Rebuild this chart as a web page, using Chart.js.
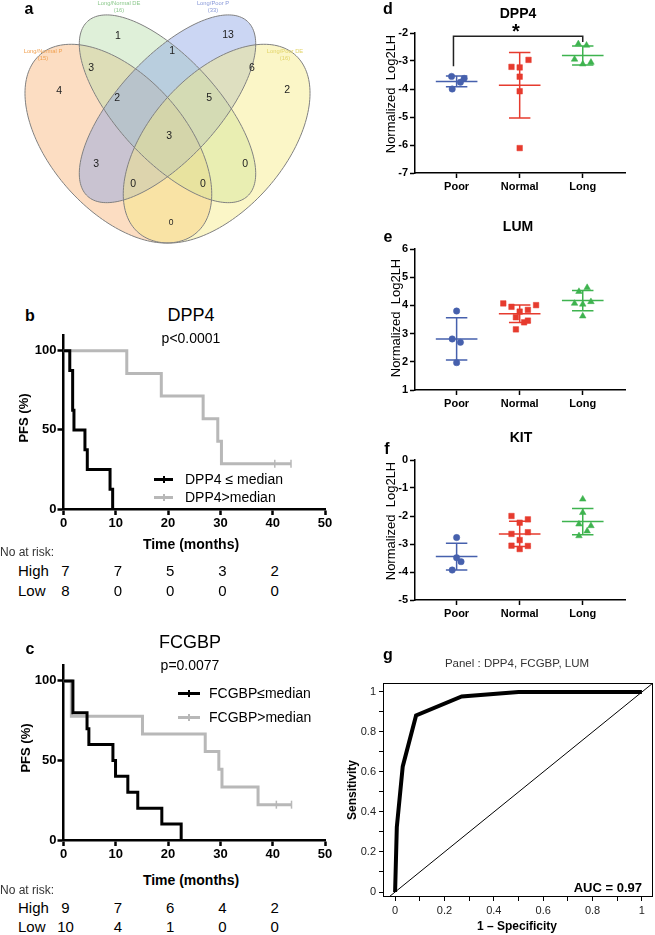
<!DOCTYPE html>
<html>
<head>
<meta charset="utf-8">
<script src="https://cdn.jsdelivr.net/npm/chart.js@4.4.1/dist/chart.umd.min.js"></script>
<style>
  html, body { margin: 0; padding: 0; background: #fff; }
  #page { position: relative; width: 655px; height: 935px; overflow: hidden; font-family: Arial, "Liberation Sans", sans-serif; color: #000; }
  canvas { position: absolute; }
  .t { position: absolute; white-space: pre; transform: translate(-50%, -50%); line-height: 1; }
  .l { transform: translate(0, -50%); }
  .r { transform: translate(-100%, -50%); }
  .rot { transform: translate(-50%, -50%) rotate(-90deg); }
  .b { font-weight: bold; }
  .key { position: absolute; height: 3px; }
  .tick { position: absolute; width: 1.5px; height: 7px; }
</style>
</head>
<body>
<div id="page">
  <canvas id="venn" width="330" height="250" style="left:0px;top:0px"></canvas>
  <canvas id="kmB" width="335" height="215" style="left:0px;top:325px"></canvas>
  <canvas id="kmC" width="335" height="217" style="left:0px;top:655px"></canvas>
  <canvas id="dotD" width="320" height="200" style="left:335px;top:0px"></canvas>
  <canvas id="dotE" width="320" height="180" style="left:335px;top:230px"></canvas>
  <canvas id="dotF" width="320" height="180" style="left:335px;top:440px"></canvas>
  <canvas id="roc" width="320" height="255" style="left:335px;top:670px"></canvas>
  <div class="key" style="left:154px;top:478px;width:19px;background:#000"></div>
  <div class="tick" style="left:163px;top:476px;background:#000"></div>
  <div class="key" style="left:154px;top:496px;width:19px;background:#b8b8b8"></div>
  <div class="tick" style="left:163px;top:494px;background:#b8b8b8"></div>
  <div class="key" style="left:178px;top:692px;width:22px;background:#000"></div>
  <div class="tick" style="left:188px;top:690px;background:#000"></div>
  <div class="key" style="left:178px;top:716px;width:22px;background:#b8b8b8"></div>
  <div class="tick" style="left:188px;top:714px;background:#b8b8b8"></div>
</div>
<script>
Chart.defaults.font.family = 'Arial, "Liberation Sans", sans-serif';
Chart.defaults.color = '#000';
Chart.defaults.animation = false;
Chart.defaults.responsive = false;
Chart.defaults.plugins.legend.display = false;
Chart.defaults.plugins.tooltip.enabled = false;

// ---------- data ----------
// a: venn
const vennSetNames = ['Long/Normal P', 'Long/Normal DE', 'Long/Poor P', 'Long/Poor DE'];
const vennSetSizes = [15, 16, 33, 16];
const vennCounts = [1, 13, 1, 4, 3, 6, 2, 2, 5, 3, 3, 0, 0, 0, 0];

// b, c: Kaplan-Meier (time in months, PFS %)
const kmTicksX = [0, 10, 20, 30, 40, 50];
const kmTicksY = [0, 50, 100];
const atRiskTimes = [0, 10, 20, 30, 40];

const dpp4LowTime = [0, 1.2, 1.75, 2.0, 4.1, 4.55, 8.9, 9.4];
const dpp4LowPfs = [100, 87.5, 62.5, 50, 37.5, 25, 12.5, 0];
const dpp4HighTime = [0, 12.1, 18.7, 26.7, 29.5, 30.2, 43.5];
const dpp4HighPfs = [100, 85.7, 71.4, 57.1, 42.9, 28.6, 28.6];
const dpp4CensorTime = [40.4, 43.5];
const dpp4CensorPfs = [28.6, 28.6];
const dpp4AtRiskHigh = [7, 7, 5, 3, 2];
const dpp4AtRiskLow = [8, 0, 0, 0, 0];

const fcgbpLowTime = [0, 1.8, 4.5, 4.85, 9.45, 9.95, 12.3, 14.2, 18.8, 22.5];
const fcgbpLowPfs = [100, 80, 70, 60, 50, 40, 30, 20, 10, 0];
const fcgbpHighTime = [0, 1.5, 15.1, 27.1, 29.7, 30.3, 37.2, 43.6];
const fcgbpHighPfs = [100, 77.8, 66.7, 55.6, 44.4, 33.3, 22.2, 22.2];
const fcgbpCensorTime = [40.7, 43.6];
const fcgbpCensorPfs = [22.2, 22.2];
const fcgbpAtRiskHigh = [9, 7, 6, 4, 2];
const fcgbpAtRiskLow = [10, 4, 1, 0, 0];

// d, e, f: dot plots (values and horizontal jitter per group)
const dotCategories = ['Poor', 'Normal', 'Long'];

const dpp4Poor = [-3.55, -3.62, -3.76, -4.0];
const dpp4PoorJit = [-0.08, 0.12, 0.06, -0.07];
const dpp4Normal = [-3.21, -3.23, -2.96, -3.56, -4.08, -6.11];
const dpp4NormalJit = [-0.13, 0, 0.14, 0, 0, 0];
const dpp4Long = [-2.39, -2.44, -2.94, -3.11, -3.05];
const dpp4LongJit = [-0.07, 0.06, -0.13, 0, 0.13];
const dpp4Mean = [-3.73, -3.87, -2.80];
const dpp4Sd = [0.19, 1.17, 0.34];

const lumPoor = [3.80, 2.81, 2.69, 1.97];
const lumPoorJit = [0, -0.07, 0.06, 0];
const lumNormal = [4.07, 3.95, 3.78, 3.84, 4.01, 3.58, 3.40, 3.46, 3.15];
const lumNormalJit = [-0.26, -0.13, 0, 0.13, 0.26, -0.06, 0.07, 0.13, -0.06];
const lumLong = [4.49, 4.63, 4.07, 4.04, 4.13, 3.62];
const lumLongJit = [-0.06, 0.07, -0.13, 0, 0.13, 0];
const lumMean = [2.81, 3.70, 4.17];
const lumSd = [0.75, 0.31, 0.36];

const kitPoor = [-2.77, -3.49, -3.63, -3.93];
const kitPoorJit = [0, 0, 0.07, -0.07];
const kitNormal = [-2.0, -2.24, -2.12, -2.64, -2.58, -2.86, -3.06, -3.07, -3.18];
const kitNormalJit = [-0.13, 0, 0.13, -0.13, 0.13, 0, -0.13, 0.13, 0];
const kitLong = [-1.40, -1.88, -2.29, -2.35, -2.54, -2.71];
const kitLongJit = [0, 0, -0.06, 0.13, 0.07, -0.06];
const kitMean = [-3.45, -2.64, -2.20];
const kitSd = [0.48, 0.45, 0.47];

// significance bracket Poor vs Long on DPP4
const dpp4Bracket = { from: 0, to: 2, top: -2.12, leftEnd: -3.19, rightEnd: -2.32 };

// g: ROC
const rocFpr = [0, 0.007, 0.031, 0.085, 0.27, 0.5, 1];
const rocTpr = [0, 0.325, 0.628, 0.883, 0.978, 1.0, 1.0];
const rocTicks = [0, 0.1, 0.2, 0.3, 0.4, 0.5, 0.6, 0.7, 0.8, 0.9, 1];

// ---------- layout / style ----------
const blue = '#4660ad', red = '#e63b2e', green = '#3eb34f', grey = '#b8b8b8';
const dotColors = [blue, red, green];
const dotShapes = ['circle', 'rect', 'triangle'];
const dotRadius = [3.2, 3.9, 3.8];

// ellipse geometry in the unit square (venn layout)
const vennEllipses = [
  { cx: 0.35, cy: 0.47, a: 0.35, b: 0.20, rot: 135, fill: 'rgba(248,180,120,0.45)' },
  { cx: 0.50, cy: 0.57, a: 0.35, b: 0.15, rot: 135, fill: 'rgba(185,222,170,0.45)' },
  { cx: 0.50, cy: 0.57, a: 0.35, b: 0.15, rot: 45, fill: 'rgba(140,165,228,0.45)' },
  { cx: 0.65, cy: 0.47, a: 0.35, b: 0.20, rot: 45, fill: 'rgba(246,236,130,0.45)' }
];
const vennRegionXY = [[0.349, 0.779], [0.685, 0.782], [0.514, 0.736], [0.169, 0.621], [0.267, 0.687],
  [0.758, 0.687], [0.865, 0.624], [0.346, 0.601], [0.627, 0.601], [0.505, 0.492], [0.282, 0.412],
  [0.737, 0.412], [0.395, 0.354], [0.608, 0.354], [0.511, 0.242]];
const vennLabelPos = [[43, 54], [119, 6], [213, 6], [285, 54]];
const vennLabelColors = ['#f0a050', '#8cc88c', '#8898d8', '#e2d468'];

const page = document.getElementById('page');
function label(text, x, y, css, cls) {
  const d = document.createElement('div');
  d.className = 't ' + (cls || '');
  d.textContent = text;
  d.style.left = x + 'px';
  d.style.top = y + 'px';
  d.style.cssText += ';' + (css || '');
  page.appendChild(d);
  return d;
}

// ---------- a: venn ----------
const vennPlugin = {
  id: 'venn',
  beforeDatasetsDraw(chart) {
    const { ctx, scales: { x, y } } = chart;
    const path = e => {
      const r = e.rot * Math.PI / 180;
      ctx.beginPath();
      for (let k = 0; k <= 180; k++) {
        const t = k / 180 * 2 * Math.PI;
        const ux = e.a * Math.cos(t), uy = e.b * Math.sin(t);
        const px = x.getPixelForValue(e.cx + ux * Math.cos(r) - uy * Math.sin(r));
        const py = y.getPixelForValue(e.cy + ux * Math.sin(r) + uy * Math.cos(r));
        if (k) ctx.lineTo(px, py); else ctx.moveTo(px, py);
      }
      ctx.closePath();
    };
    ctx.save();
    vennEllipses.forEach(e => { path(e); ctx.fillStyle = e.fill; ctx.fill(); });
    vennEllipses.forEach(e => { path(e); ctx.strokeStyle = '#808080'; ctx.lineWidth = 1; ctx.stroke(); });
    ctx.restore();
  },
  afterDatasetsDraw(chart) {
    const { ctx } = chart;
    const meta = chart.getDatasetMeta(0);
    ctx.save();
    ctx.fillStyle = '#222';
    ctx.textAlign = 'center';
    ctx.textBaseline = 'middle';
    meta.data.forEach((pt, i) => {
      const raw = chart.data.datasets[0].data[i];
      ctx.font = (i === vennCounts.length - 1 ? '8.5px' : '10.5px') + ' Arial, "Liberation Sans", sans-serif';
      ctx.fillText(String(raw.n), pt.x, pt.y);
    });
    ctx.restore();
  }
};

new Chart(document.getElementById('venn'), {
  type: 'scatter',
  data: { datasets: [{ data: vennCounts.map((n, i) => ({ x: vennRegionXY[i][0], y: vennRegionXY[i][1], n })), pointRadius: 0 }] },
  options: {
    scales: {
      x: { display: false, min: -0.0113, max: 0.996 },
      y: { display: false, min: 0.165, max: 0.882 }
    }
  },
  plugins: [vennPlugin]
});

vennSetNames.forEach((name, i) => {
  label(name + '\n(' + vennSetSizes[i] + ')', vennLabelPos[i][0], vennLabelPos[i][1],
    'font-size:5.8px;line-height:6.5px;text-align:center;color:' + vennLabelColors[i]);
});

// ---------- b, c: Kaplan-Meier ----------
const pts = (xs, ys) => xs.map((v, i) => ({ x: v, y: ys[i] }));

function kmChart(id, low, high, censor, xHeight) {
  const axisGrid = { display: true, drawOnChartArea: false, drawTicks: true, tickLength: 6, tickWidth: 2.5, tickColor: '#000' };
  return new Chart(document.getElementById(id), {
    type: 'scatter',
    data: {
      datasets: [
        { type: 'line', data: low, borderColor: '#000', borderWidth: 3, stepped: true, pointRadius: 0, clip: false },
        { type: 'scatter', data: censor, pointStyle: 'line', pointRotation: 90, pointRadius: 4,
          pointBorderColor: grey, pointBorderWidth: 1.5, clip: false },
        { type: 'line', data: high, borderColor: grey, borderWidth: 3, stepped: true, pointRadius: 0, clip: false }
      ]
    },
    options: {
      layout: { padding: { top: 10, right: 10, left: 0, bottom: 0 } },
      scales: {
        x: {
          type: 'linear', min: 0, max: 50,
          afterBuildTicks: s => { s.ticks = kmTicksX.map(v => ({ value: v })); },
          afterFit: s => { s.height = xHeight; },
          border: { color: '#000', width: 2.5 },
          grid: axisGrid,
          ticks: { font: { size: 13, weight: 'bold' }, color: '#000', padding: 1, maxRotation: 0, autoSkip: false }
        },
        y: {
          type: 'linear', min: 0, max: 110,
          afterBuildTicks: s => { s.ticks = kmTicksY.map(v => ({ value: v })); },
          afterFit: s => { s.width = 63.5; },
          border: { color: '#000', width: 2.5 },
          grid: axisGrid,
          ticks: { font: { size: 13, weight: 'bold' }, color: '#000', padding: 1 }
        }
      }
    }
  });
}

const kmB = kmChart('kmB', pts(dpp4LowTime, dpp4LowPfs), pts(dpp4HighTime, dpp4HighPfs),
  pts(dpp4CensorTime, dpp4CensorPfs), 31);
const kmC = kmChart('kmC', pts(fcgbpLowTime, fcgbpLowPfs), pts(fcgbpHighTime, fcgbpHighPfs),
  pts(fcgbpCensorTime, fcgbpCensorPfs), 32);

function atRisk(chart, high, low, yHigh, yLow) {
  label('High', 18, yHigh, 'font-size:15px', 'l');
  label('Low', 18, yLow, 'font-size:15px', 'l');
  atRiskTimes.forEach((t, i) => {
    const x = chart.scales.x.getPixelForValue(t) + 2;
    label(String(high[i]), x, yHigh, 'font-size:15px');
    label(String(low[i]), x, yLow, 'font-size:15px');
  });
}
atRisk(kmB, dpp4AtRiskHigh, dpp4AtRiskLow, 570, 590);
atRisk(kmC, fcgbpAtRiskHigh, fcgbpAtRiskLow, 907, 926);

// ---------- d, e, f: dot plots ----------
function errorBars(i, m, sd) {
  return [
    { x: i - 0.33, y: m }, { x: i + 0.33, y: m }, { x: i, y: null },
    { x: i - 0.17, y: m + sd }, { x: i + 0.17, y: m + sd }, { x: i, y: null },
    { x: i - 0.17, y: m - sd }, { x: i + 0.17, y: m - sd }, { x: i, y: null },
    { x: i, y: m - sd }, { x: i, y: m + sd }
  ];
}

function dotChart(id, groups, jitters, means, sds, yMin, yMax, padTop, xHeight, extra) {
  const sets = [];
  groups.forEach((vals, i) => {
    sets.push({
      type: 'scatter', data: vals.map((v, j) => ({ x: i + jitters[i][j], y: v })),
      pointStyle: dotShapes[i], pointRadius: dotRadius[i], pointBackgroundColor: dotColors[i],
      pointBorderColor: dotColors[i], pointBorderWidth: 0.5, clip: false
    });
  });
  means.forEach((m, i) => {
    sets.push({ type: 'line', data: errorBars(i, m, sds[i]), borderColor: dotColors[i], borderWidth: 1.5,
      pointRadius: 0, spanGaps: false, clip: false });
  });
  (extra || []).forEach(d => sets.push(d));
  const axisGrid = { display: true, drawOnChartArea: false, drawTicks: true, tickLength: 5, tickWidth: 1.5, tickColor: '#000' };
  return new Chart(document.getElementById(id), {
    type: 'scatter',
    data: { datasets: sets },
    options: {
      layout: { padding: { top: padTop, right: 30, left: 0, bottom: 0 } },
      scales: {
        x: {
          type: 'linear', min: -0.66, max: 2.67,
          afterBuildTicks: s => { s.ticks = dotCategories.map((c, i) => ({ value: i })); },
          afterFit: s => { s.height = xHeight; },
          border: { color: '#000', width: 1.5 },
          grid: axisGrid,
          ticks: { callback: (v, i) => dotCategories[i], font: { size: 11, weight: 'bold' }, color: '#000', padding: 2, maxRotation: 0, autoSkip: false }
        },
        y: {
          type: 'linear', min: yMin, max: yMax,
          ticks: { stepSize: 1, font: { size: 11, weight: 'bold' }, color: '#000', padding: 2 },
          afterFit: s => { s.width = 80; },
          border: { color: '#000', width: 1.5 },
          grid: axisGrid
        }
      }
    }
  });
}

const b = dpp4Bracket;
dotChart('dotD', [dpp4Poor, dpp4Normal, dpp4Long], [dpp4PoorJit, dpp4NormalJit, dpp4LongJit],
  dpp4Mean, dpp4Sd, -7, -2, 33, 27, [{
    type: 'line', borderColor: '#222', borderWidth: 1.5, pointRadius: 0, clip: false,
    data: [{ x: b.from - 0.05, y: b.leftEnd }, { x: b.from - 0.05, y: b.top }, { x: b.to, y: b.top }, { x: b.to, y: b.rightEnd }]
  }]);
dotChart('dotE', [lumPoor, lumNormal, lumLong], [lumPoorJit, lumNormalJit, lumLongJit],
  lumMean, lumSd, 1, 6, 19, 20);
dotChart('dotF', [kitPoor, kitNormal, kitLong], [kitPoorJit, kitNormalJit, kitLongJit],
  kitMean, kitSd, -5, 0, 20, 20);

// ---------- g: ROC ----------
const framePlugin = {
  id: 'frame',
  afterDraw(chart) {
    const { ctx, chartArea: a } = chart;
    ctx.save();
    ctx.strokeStyle = '#000';
    ctx.lineWidth = 1;
    ctx.strokeRect(a.left + 0.5, a.top + 0.5, a.right - a.left - 1, a.bottom - a.top - 1);
    ctx.restore();
  }
};
const rocMin = -0.049, rocMax = 1.045;
const rocGrid = { display: true, drawOnChartArea: false, drawTicks: true, tickLength: 4, tickWidth: 1, tickColor: '#000' };
const rocLabel = (v, i) => (i % 2 === 0 ? String(+rocTicks[i].toFixed(1)) : '');
new Chart(document.getElementById('roc'), {
  type: 'scatter',
  data: {
    datasets: [
      { type: 'line', data: pts(rocFpr, rocTpr), borderColor: '#000', borderWidth: 4, pointRadius: 0, clip: false },
      { type: 'line', data: [{ x: rocMin, y: rocMin }, { x: rocMax, y: rocMax }], borderColor: '#000', borderWidth: 1, pointRadius: 0 }
    ]
  },
  options: {
    layout: { padding: { top: 13, right: 2, left: 0, bottom: 0 } },
    scales: {
      x: {
        type: 'linear', min: rocMin, max: rocMax,
        afterBuildTicks: s => { s.ticks = rocTicks.map(v => ({ value: v })); },
        afterFit: s => { s.height = 28; },
        border: { display: false },
        grid: rocGrid,
        ticks: { callback: rocLabel, font: { size: 11 }, color: '#222', padding: 3, maxRotation: 0, autoSkip: false }
      },
      y: {
        type: 'linear', min: -0.025, max: 1.045,
        afterBuildTicks: s => { s.ticks = rocTicks.map(v => ({ value: v })); },
        afterFit: s => { s.width = 48; },
        border: { display: false },
        grid: rocGrid,
        ticks: { callback: rocLabel, font: { size: 11 }, color: '#222', padding: 3, autoSkip: false }
      }
    }
  },
  plugins: [framePlugin]
});

// ---------- text ----------
label('a', 29, 9, 'font-size:16px', 'b');
label('b', 30, 316, 'font-size:16px', 'b');
label('c', 30, 649, 'font-size:16px', 'b');
label('d', 388, 9, 'font-size:16px', 'b');
label('e', 388, 237, 'font-size:16px', 'b');
label('f', 387, 449, 'font-size:16px', 'b');
label('g', 388, 655, 'font-size:16px', 'b');

label('DPP4', 191, 315, 'font-size:18px');
label('p<0.0001', 191, 338, 'font-size:14px');
label('PFS (%)', 23, 418, 'font-size:13px', 'b rot');
label('Time (months)', 191, 544, 'font-size:14px', 'b');
label('No at risk:', 0, 552, 'font-size:12px;color:#333', 'l');
label('DPP4 \u2264 median', 185, 479, 'font-size:14px', 'l');
label('DPP4>median', 185, 497, 'font-size:14px', 'l');

label('FCGBP', 190, 642, 'font-size:18px');
label('p=0.0077', 190, 665, 'font-size:14px');
label('PFS (%)', 25, 748, 'font-size:13px', 'b rot');
label('Time (months)', 191, 880, 'font-size:14px', 'b');
label('No at risk:', 0, 890, 'font-size:12px;color:#333', 'l');
label('FCGBP\u2264median', 209, 693, 'font-size:14px', 'l');
label('FCGBP>median', 209, 717, 'font-size:14px', 'l');

label('DPP4', 518, 13, 'font-size:14px', 'b');
label('*', 516, 31, 'font-size:20px', 'b');
label('Normalized  Log2LH', 390, 94, 'font-size:13px', 'rot');
label('LUM', 518, 226, 'font-size:14px', 'b');
label('Normalized  Log2LH', 395, 318, 'font-size:13px', 'rot');
label('KIT', 521, 437, 'font-size:14px', 'b');
label('Normalized  Log2LH', 390, 521, 'font-size:13px', 'rot');

label('Panel : DPP4, FCGBP, LUM', 517, 664, 'font-size:11.5px;color:#333');
label('Sensitivity', 352, 790, 'font-size:12px', 'b rot');
label('1 \u2013 Specificity', 517, 926, 'font-size:12px', 'b');
label('AUC = 0.97', 642, 887, 'font-size:13px', 'b r');
</script>
</body>
</html>
